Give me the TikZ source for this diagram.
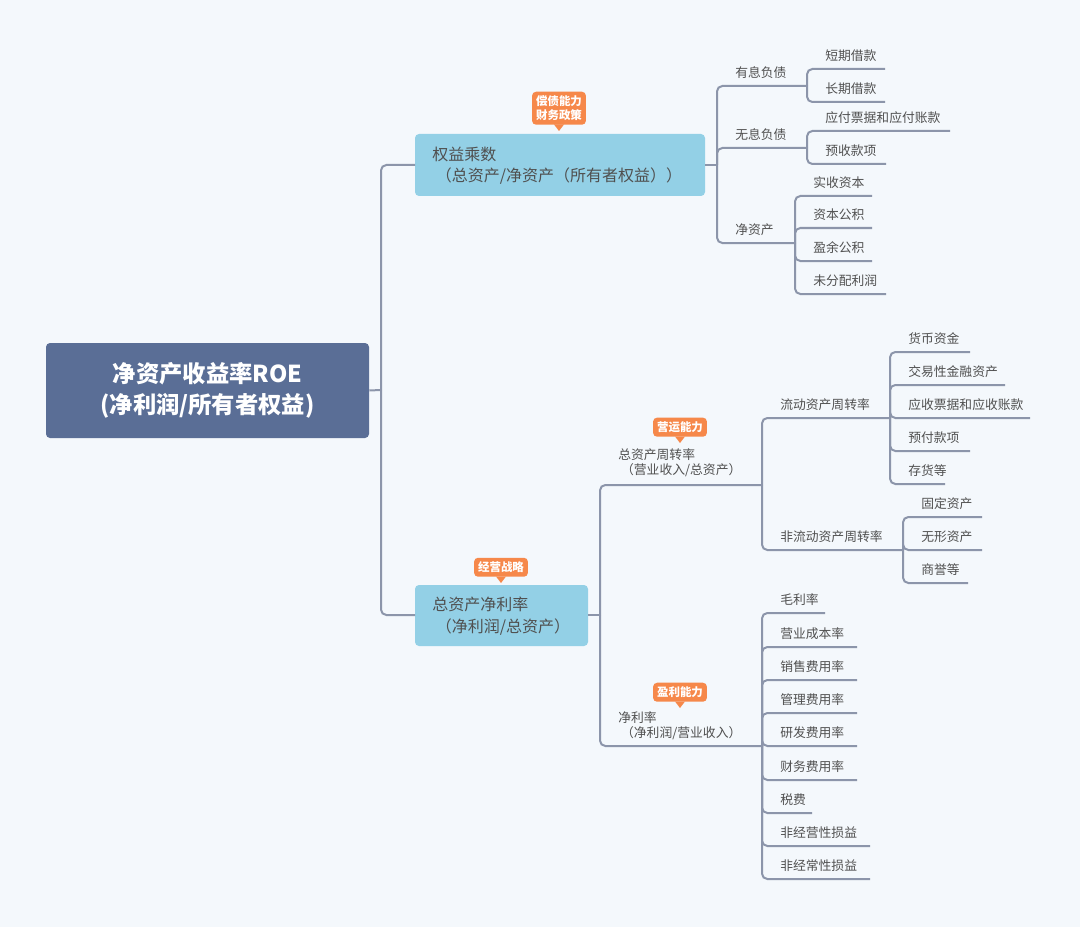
\documentclass[tikz,border=0pt]{standalone}
\usepackage{fontspec}
\setmainfont{Noto Sans CJK SC}
\begin{document}
\begin{tikzpicture}[x=0.75pt,y=-0.75pt]
\definecolor{bg}{HTML}{F4F8FC}
\definecolor{rootc}{HTML}{5A6E96}
\definecolor{boxc}{HTML}{93D0E6}
\definecolor{badgec}{HTML}{F6884A}
\definecolor{linec}{HTML}{8C95AA}
\definecolor{txtc}{HTML}{505050}
\tikzset{
 conn/.style={draw=linec,line width=1.5pt,rounded corners=4pt},
 lt/.style={text=txtc,font=\fontsize{9.6}{11}\selectfont,inner sep=0pt,anchor=west},
 bt/.style={text=txtc,font=\fontsize{12}{16}\selectfont,align=left,inner sep=0pt,anchor=west},
 badge/.style={fill=badgec,rounded corners=3pt,text=white,font=\bfseries\fontsize{8.6}{10.5}\selectfont,align=center,inner sep=3pt}
}
\fill[bg] (0,0) rectangle (1080,927);
\newcommand\lf[6]{%
 \node[lt] (#1) at (#2+18,#4-13) {#6};
 \draw[conn] (#2,#3) |- (#5,#4);}
\newcommand\bdg[4]{% name, x center, y bottom, text
 \node[badge,anchor=south] (#1) at (#2,#3) {#4};
 \fill[badgec] (#2-5,#3-0.5) -- (#2+5,#3-0.5) -- (#2,#3+6) -- cycle;}
% root
\node[fill=rootc,rounded corners=3pt,minimum width=323*0.75pt,minimum height=95*0.75pt,text=white,
 font=\bfseries\fontsize{17.5}{23}\selectfont,align=center] (root) at (207.5,390.5) {净资产收益率ROE\\(净利润/所有者权益)};
% boxes
\fill[boxc,rounded corners=3pt] (415,134) rectangle (705,196);
\node[bt] (b1) at (432,166) {权益乘数\\\ （总资产/净资产（所有者权益））};
\fill[boxc,rounded corners=3pt] (415,585) rectangle (588,646);
\node[bt] (b2) at (432,616) {总资产净利率\\\ （净利润/总资产）};
\coordinate (b1r) at (705,165); \coordinate (b2r) at (588,615);
\draw[conn] (root.east) -- (381,390);
\draw[conn] (381,390) |- (415,165);
\draw[conn] (381,390) |- (415,615);
\bdg{g1}{559}{125}{偿债能力\\财务政策}
\bdg{g2}{501}{577}{经营战略}
\bdg{g3}{680}{437}{营运能力}
\bdg{g4}{680}{702}{盈利能力}
% box1 branch
\draw[conn] (b1r) -- (717,165);
\lf{yx}{717}{165}{86}{807}{有息负债}
\lf{wx}{717}{165}{148}{807}{无息负债}
\lf{jz}{717}{165}{243}{795}{净资产}
\lf{dq}{807}{86}{69}{885}{短期借款}
\lf{cq}{807}{86}{102}{885}{长期借款}
\lf{yf}{807}{148}{131}{950}{应付票据和应付账款}
\lf{ys}{807}{148}{164}{886}{预收款项}
\lf{sz}{795}{243}{196}{872}{实收资本}
\lf{zb}{795}{243}{228}{872}{资本公积}
\lf{yy}{795}{243}{261}{872}{盈余公积}
\lf{wf}{795}{243}{294}{886}{未分配利润}
% box2 branch
\draw[conn] (b2r) -- (600,615);
\node[lt,align=left] (zz) at (618,463) {总资产周转率\\\ （营业收入/总资产）};
\draw[conn] (600,615) |- (762,485);
\node[lt,align=left] (jl) at (618,726) {净利率\\\ （净利润/营业收入）};
\draw[conn] (600,615) |- (762,746);
\lf{ld}{762}{485}{418}{890}{流动资产周转率}
\lf{fl}{762}{485}{550}{903}{非流动资产周转率}
\lf{hb}{890}{418}{352}{970}{货币资金}
\lf{jy}{890}{418}{385}{1005}{交易性金融资产}
\lf{ysz}{890}{418}{418}{1030}{应收票据和应收账款}
\lf{yfk}{890}{418}{451}{970}{预付款项}
\lf{ch}{890}{418}{484}{945}{存货等}
\lf{gd}{903}{550}{517}{982}{固定资产}
\lf{wx2}{903}{550}{550}{982}{无形资产}
\lf{sy}{903}{550}{583}{968}{商誉等}
\lf{ml}{762}{746}{613}{825}{毛利率}
\lf{yycb}{762}{746}{647}{857}{营业成本率}
\lf{xs}{762}{746}{680}{857}{销售费用率}
\lf{gl}{762}{746}{713}{857}{管理费用率}
\lf{yf2}{762}{746}{746}{857}{研发费用率}
\lf{cw}{762}{746}{780}{857}{财务费用率}
\lf{sf}{762}{746}{813}{812}{税费}
\lf{fjy}{762}{746}{846}{870}{非经营性损益}
\lf{fjc}{762}{746}{879}{870}{非经常性损益}
\end{tikzpicture}
\end{document}
